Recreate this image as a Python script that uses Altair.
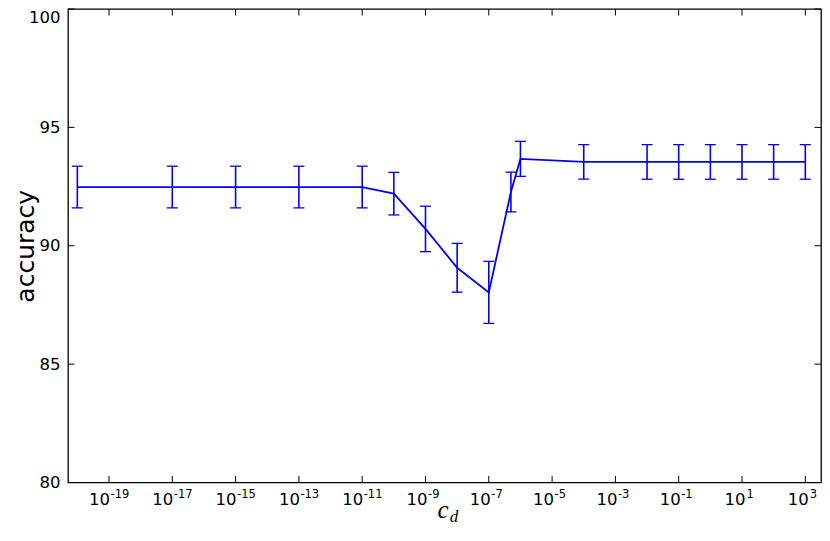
import altair as alt
import pandas as pd

# ---- data ----
cd_values = [1e-20, 1e-17, 1e-15, 1e-13, 1e-11, 1e-10, 1e-9, 1e-8, 1e-7, 5e-7,
             1e-6, 1e-4, 1e-2, 1e-1, 1, 10, 100, 1000]
accuracy = [92.48, 92.48, 92.48, 92.48, 92.48, 92.20, 90.71, 89.07, 88.03, 92.27,
            93.67, 93.54, 93.54, 93.54, 93.54, 93.54, 93.54, 93.54]
error = [0.88, 0.88, 0.88, 0.88, 0.88, 0.90, 0.96, 1.03, 1.31, 0.84,
         0.74, 0.73, 0.73, 0.73, 0.73, 0.73, 0.73, 0.73]

x_tick_exponents = [-19, -17, -15, -13, -11, -9, -7, -5, -3, -1, 1, 3]
x_tick_base = "10"
y_ticks = [80, 85, 90, 95, 100]
x_title_main = ["c"]
x_title_sub = ["d"]
y_title = "accuracy"

df = pd.DataFrame({"cd": cd_values, "acc": accuracy, "err": error})
df["lo"] = df["acc"] - df["err"]
df["hi"] = df["acc"] + df["err"]

xt = pd.DataFrame({
    "xt": [10.0 ** e for e in x_tick_exponents],
    "base": [x_tick_base] * len(x_tick_exponents),
    "exp": [str(e) for e in x_tick_exponents],
    "grp": ["a" if e <= -10 else ("b" if e < 0 else "c") for e in x_tick_exponents],
})
yt = pd.DataFrame({"yt": y_ticks})

# plot area: left edge at page x=68, 31.65 px per decade
W, H = 753, 473.5
TL = 6.5
BLUE = "#0000ff"

xscale = alt.Scale(type="log", domain=[10 ** -20.295, 10 ** 3.496], nice=False)
yscale = alt.Scale(domain=[80, 100], nice=False, zero=False)
yaxis = alt.Axis(values=y_ticks, title=y_title, ticks=False, domain=False, grid=False,
                 labelPadding=8, titleFontSize=25, titleFont="DejaVu Sans",
                 titleFontWeight="normal", titleBaseline="alphabetic",
                 titleX=-35, titleAngle=-90, titleColor="black",
                 labelOffset={"condition": {"test": "datum.value == 100", "value": 8},
                              "value": 0})


def X(f):
    return alt.X(f, type="quantitative", scale=xscale, axis=None)


def Y(f):
    return alt.Y(f, type="quantitative", scale=yscale, axis=yaxis)


base = alt.Chart(df)
line = base.mark_line(color=BLUE, strokeWidth=1.8).encode(x=X("cd"), y=Y("acc"))
bars = base.mark_rule(color=BLUE, strokeWidth=1.6).encode(x=X("cd"), y=Y("lo"), y2="hi")
cap_hi = base.mark_tick(color=BLUE, orient="horizontal", size=11, thickness=1.3,
                        opacity=1).encode(x=X("cd"), y=Y("hi"))
cap_lo = base.mark_tick(color=BLUE, orient="horizontal", size=11, thickness=1.3,
                        opacity=1).encode(x=X("cd"), y=Y("lo"))

tick_style = dict(color="black", strokeWidth=1)
xt_bottom = alt.Chart(xt).mark_rule(**tick_style).encode(
    x=X("xt"), y=alt.value(H), y2=alt.value(H - TL))
xt_top = alt.Chart(xt).mark_rule(**tick_style).encode(
    x=X("xt"), y=alt.value(0), y2=alt.value(TL))
yt_left = alt.Chart(yt).mark_rule(**tick_style).encode(
    y=Y("yt"), x=alt.value(0), x2=alt.value(TL))
yt_right = alt.Chart(yt).mark_rule(**tick_style).encode(
    y=Y("yt"), x=alt.value(W), x2=alt.value(W - TL))

# x tick labels: "10" plus a raised, smaller exponent
label_layers = []
offsets = {"a": (1.0, 1.5), "b": (2.0, 2.5), "c": (3.5, 4.5)}
for g, (dx_base, dx_exp) in offsets.items():
    sub = alt.Chart(xt).transform_filter(alt.datum.grp == g)
    label_layers.append(sub.mark_text(
        font="DejaVu Sans", fontSize=16.5, align="right", baseline="alphabetic",
        color="black", dx=dx_base).encode(x=X("xt"), y=alt.value(495.7), text="base:N"))
    label_layers.append(sub.mark_text(
        font="DejaVu Sans", fontSize=11.5, align="left", baseline="alphabetic",
        color="black", dx=dx_exp).encode(x=X("xt"), y=alt.value(489), text="exp:N"))

title_c = alt.Chart(pd.DataFrame({"t": x_title_main})).mark_text(
    font="Liberation Serif", fontStyle="italic", fontSize=25, align="center",
    baseline="alphabetic", color="black").encode(
    text="t:N", x=alt.value(375), y=alt.value(509))
title_d = alt.Chart(pd.DataFrame({"t": x_title_sub})).mark_text(
    font="Liberation Serif", fontStyle="italic", fontSize=17, align="center",
    baseline="alphabetic", color="black").encode(
    text="t:N", x=alt.value(386), y=alt.value(513))

chart = alt.layer(
    xt_bottom, xt_top, yt_left, yt_right, bars, cap_hi, cap_lo, line,
    *label_layers, title_c, title_d
).properties(
    width=W, height=H,
    autosize=alt.AutoSizeParams(type="none"),
    padding={"left": 60, "top": 1, "right": 1, "bottom": 44.5},
    background="white",
).configure_view(
    stroke="black", strokeWidth=1.3
).configure_axis(
    labelFont="DejaVu Sans", labelFontSize=16.5, labelColor="black"
)

chart.save("out.html", embed_options={"renderer": "svg", "actions": False})
